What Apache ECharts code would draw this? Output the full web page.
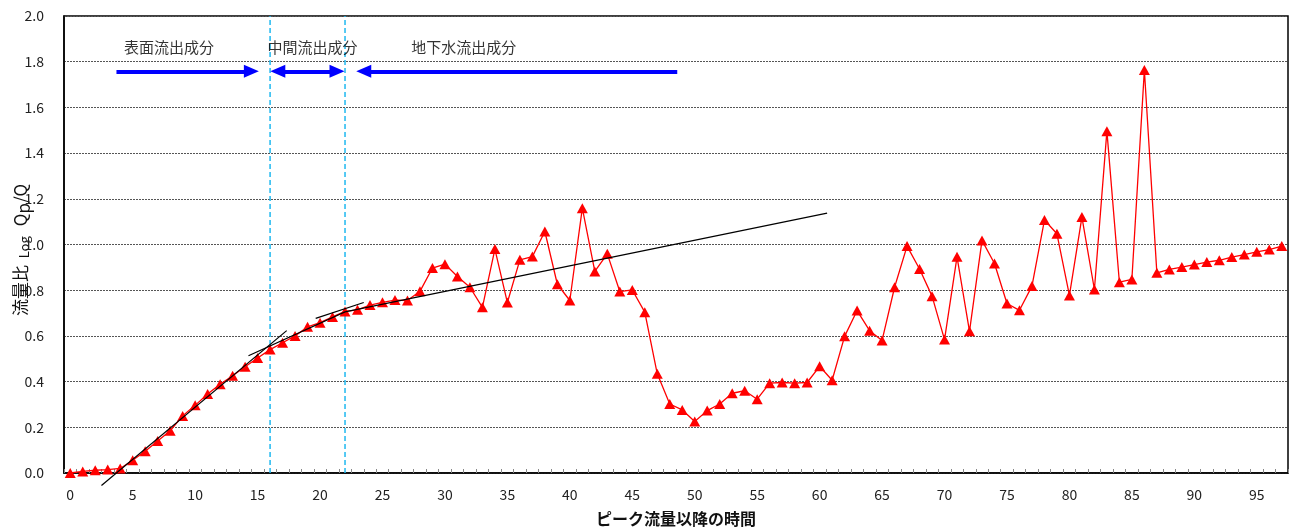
<!DOCTYPE html>
<html><head><meta charset="utf-8">
<script src="https://cdn.jsdelivr.net/npm/echarts@6/dist/echarts.min.js"></script>
<style>html,body{margin:0;padding:0;background:#fff;}#c{width:1293px;height:530px;}</style>
</head><body><div id="c"></div>
<script>
var hours = [];
for (var i = 0; i <= 97; i++) hours.push(String(i));
var ratio = [0.00,0.007,0.012,0.015,0.02,0.056,0.095,0.14,0.185,0.25,
0.296,0.346,0.388,0.426,0.465,0.503,0.54,0.57,0.60,0.64,
0.658,0.683,0.707,0.714,0.735,0.747,0.757,0.755,0.795,0.897,
0.914,0.86,0.813,0.725,0.98,0.746,0.933,0.947,1.057,0.826,
0.755,1.159,0.882,0.959,0.794,0.801,0.704,0.434,0.302,0.276,
0.225,0.273,0.302,0.349,0.36,0.323,0.393,0.396,0.393,0.396,
0.467,0.406,0.598,0.711,0.623,0.58,0.813,0.993,0.893,0.774,
0.584,0.946,0.62,1.018,0.917,0.742,0.712,0.818,1.107,1.047,
0.777,1.12,0.803,1.496,0.835,0.847,1.764,0.876,0.891,0.901,
0.912,0.923,0.931,0.945,0.956,0.968,0.978,0.993];
var yTicks = ['0.0','0.2','0.4','0.6','0.8','1.0','1.2','1.4','1.6','1.8','2.0'];
var trendSurface = [[2.5,-0.055],[17.33,0.623]];
var trendInter = [[14.27,0.513],[22,0.705],[60.6,1.137]];
var trendShort = [[19.65,0.677],[23.5,0.746]];
var boundaries = [16, 22];
var zoneNames = ['表面流出成分','中間流出成分','地下水流出成分'];
var zoneLabelX = [7.9, 19.4, 31.5];
var arrowY = 1.758;
var arrows = [[3.7,14.5,'none','triangle'],[16.62,21.36,'triangle','triangle'],[23.5,48.6,'triangle','none']];

var chart = echarts.init(document.getElementById('c'));
var FONT = '"Noto Sans CJK JP", sans-serif';
var series = [];
series.push({
  type:'line', xAxisIndex:1, yAxisIndex:0,
  data: ratio.map(function(v,i){return [i,v];}),
  symbol:'triangle', symbolSize:[11,10], color:'#FF0000',
  lineStyle:{color:'#FF0000', width:1.3}, itemStyle:{color:'#FF0000'},
  z:3, animation:false
});
[trendSurface, trendInter, trendShort].forEach(function(d){
  series.push({type:'line', xAxisIndex:1, data:d, symbol:'none', clip:false,
    lineStyle:{color:'#000', width:1.2}, z:4, animation:false});
});
boundaries.forEach(function(b){
  series.push({type:'line', xAxisIndex:1, data:[[b,0],[b,2]], symbol:'none',
    lineStyle:{color:'#1EB8F0', width:1.5, type:[5,3]}, z:2, animation:false});
});
series.push({
  type:'scatter', xAxisIndex:1, symbolSize:0, animation:false,
  itemStyle:{color:'transparent'},
  data: zoneNames.map(function(n,i){return {value:[zoneLabelX[i],1.863], name:n};}),
  label:{show:true, position:'inside', formatter:function(p){return p.name;}, color:'#000', fontSize:15, fontFamily:FONT},
  markLine:{
    silent:true, animation:false, label:{show:false},
    lineStyle:{color:'#0000FF', width:4, type:'solid'},
    symbolSize:[13,15],
    data: arrows.map(function(a){
      return [{coord:[a[0],arrowY], symbol:a[2]},{coord:[a[1],arrowY], symbol:a[3]}];
    })
  }
});

chart.setOption({
  animation:false,
  grid:{left:64, right:5, top:16, bottom:57, containLabel:false, outerBoundsMode:'none',
    show:true, borderColor:'#000', borderWidth:1.5, backgroundColor:'transparent'},
  xAxis:[{
    type:'category', data:hours, boundaryGap:true, position:'bottom',
    axisLine:{onZero:false, lineStyle:{color:'#000', width:1.5}},
    axisTick:{show:true, interval:0, inside:true, length:4, lineStyle:{color:'#888'}},
    axisLabel:{interval:function(i){return i%5===0;}, color:'#222', fontSize:14, fontFamily:FONT, margin:15},
    name:'ピーク流量以降の時間', nameLocation:'middle', nameGap:38,
    nameTextStyle:{color:'#111', fontSize:16, fontWeight:'bold', fontFamily:FONT}
  },{
    type:'value', min:-0.5, max:97.5, show:false
  }],
  yAxis:[{
    type:'value', min:0, max:2, interval:0.2,
    axisLine:{show:true, onZero:false, lineStyle:{color:'#000', width:1.5}},
    axisTick:{show:false},
    axisLabel:{formatter:function(v){return v.toFixed(1);}, color:'#222', fontSize:14, fontFamily:FONT, margin:20}
  }],
  graphic:[{
    type:'text', x:21, y:250, rotation:Math.PI/2, silent:true,
    style:{
      text:'{m|流量比}  {s|Log}   {m|Q}{p|p}{m|/Q}',
      align:'center', verticalAlign:'middle', fill:'#111',
      rich:{
        m:{fontSize:17, fontFamily:FONT, fill:'#111', verticalAlign:'middle'},
        s:{fontSize:13, fontFamily:FONT, fill:'#111', verticalAlign:'middle', padding:[6,0,0,0]},
        p:{fontSize:17, fontFamily:FONT, fill:'#111', verticalAlign:'middle', padding:[5,0,0,0]}
      }
    }
  }],
  series:series
});
chart.setOption({yAxis:[{splitLine:{show:true, lineStyle:{color:'#555', type:[2,1], width:1}}}]});
</script></body></html>
